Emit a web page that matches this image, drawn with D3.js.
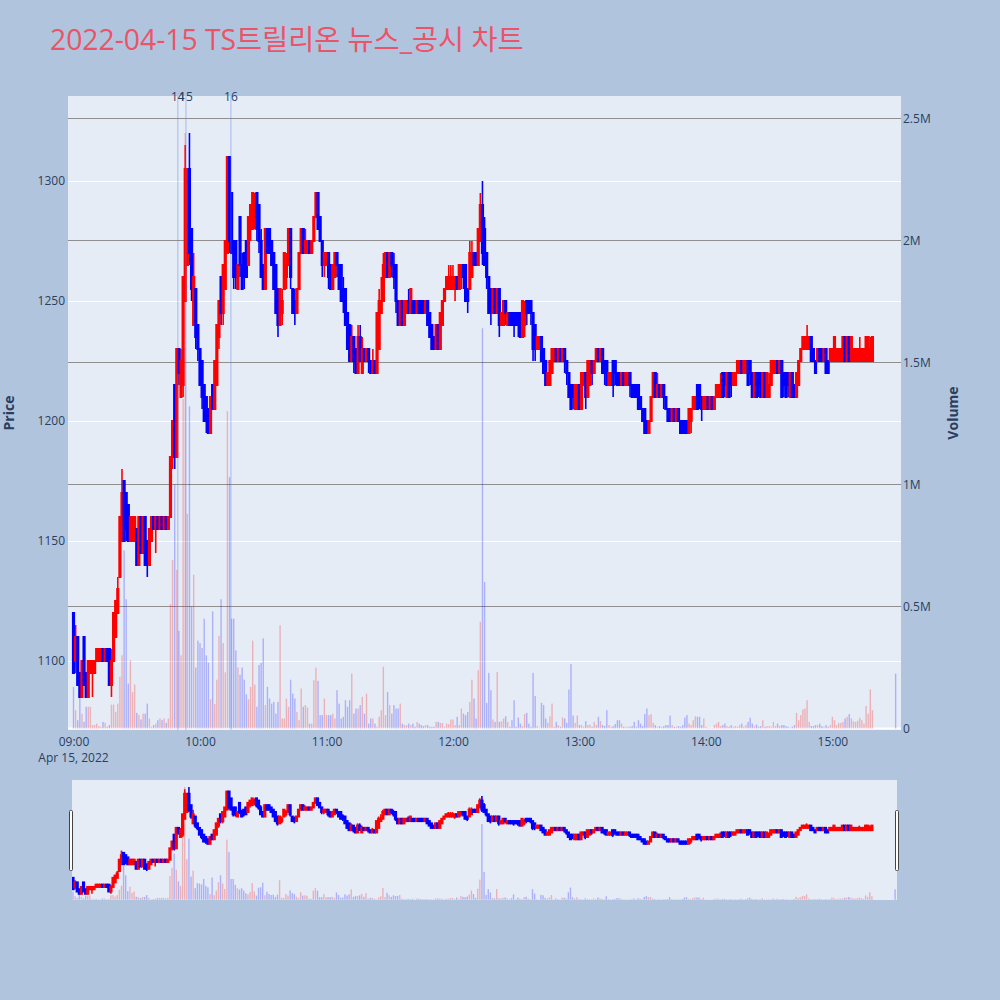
<!DOCTYPE html>
<html><head><meta charset="utf-8">
<script src="https://cdn.jsdelivr.net/npm/d3@7"></script>
<style>body{margin:0;background:#B0C4DE;}svg{display:block}</style>
</head><body>
<svg id="chart" width="1000" height="1000"></svg>
<script>
// ---------------- data ----------------
const titleText = "2022-04-15 TS트릴리온 뉴스_공시 차트";
const tradeDate = "2022-04-15";
const sessionStart = "09:00";
// one candle per minute from 09:00: [open, high, low, close]
const candles = [
[1120,1120,1095,1095],[1100,1115,1095,1110],[1110,1110,1090,1090],[1095,1095,1085,1085],[1085,1100,1085,1100],
[1110,1110,1090,1090],[1095,1095,1085,1085],[1085,1100,1085,1100],[1095,1100,1095,1100],[1095,1100,1085,1100],
[1095,1100,1095,1100],[1100,1105,1100,1105],[1100,1105,1100,1105],[1100,1105,1100,1105],[1105,1105,1100,1100],
[1100,1105,1100,1105],[1105,1105,1100,1100],[1105,1105,1090,1090],[1090,1105,1085,1100],[1100,1120,1100,1120],
[1110,1125,1110,1125],[1120,1135,1120,1130],[1135,1160,1135,1160],[1150,1180,1150,1170],[1175,1175,1150,1150],
[1170,1170,1150,1155],[1165,1165,1150,1150],[1150,1160,1150,1160],[1150,1160,1150,1160],[1150,1160,1150,1160],
[1155,1155,1140,1140],[1140,1160,1140,1160],[1160,1160,1145,1145],[1145,1160,1145,1160],[1160,1160,1140,1140],
[1150,1150,1135,1140],[1140,1155,1140,1155],[1150,1160,1150,1160],[1160,1160,1155,1155],[1155,1160,1145,1160],
[1160,1160,1155,1155],[1155,1160,1155,1160],[1160,1160,1155,1155],[1155,1160,1155,1160],[1160,1160,1155,1155],
[1155,1160,1155,1160],[1160,1185,1160,1185],[1185,1200,1180,1200],[1215,1215,1180,1185],[1185,1230,1185,1230],
[1230,1230,1215,1220],[1210,1230,1210,1225],[1215,1260,1210,1260],[1250,1315,1250,1305],[1265,1305,1265,1305],
[1305,1320,1265,1270],[1280,1280,1250,1255],[1240,1270,1240,1260],[1255,1255,1230,1235],[1240,1240,1225,1230],
[1230,1230,1215,1215],[1225,1225,1205,1210],[1215,1215,1200,1200],[1210,1210,1195,1200],[1205,1205,1195,1195],
[1195,1210,1195,1210],[1215,1215,1205,1205],[1205,1225,1205,1225],[1215,1240,1215,1240],[1235,1250,1230,1250],
[1260,1260,1240,1245],[1245,1265,1240,1265],[1255,1275,1255,1275],[1270,1310,1270,1310],[1310,1310,1270,1275],
[1295,1295,1270,1270],[1275,1275,1255,1260],[1275,1275,1255,1260],[1255,1265,1255,1265],[1285,1285,1260,1265],
[1265,1270,1255,1255],[1270,1270,1255,1260],[1275,1275,1260,1260],[1265,1285,1265,1285],[1280,1290,1275,1290],
[1280,1295,1280,1295],[1285,1295,1280,1290],[1295,1295,1275,1280],[1290,1290,1270,1275],[1275,1280,1260,1260],
[1265,1265,1255,1255],[1255,1280,1255,1280],[1280,1280,1270,1270],[1280,1280,1270,1270],[1275,1275,1265,1265],
[1270,1270,1255,1255],[1265,1265,1245,1245],[1255,1255,1235,1240],[1240,1255,1240,1255],[1245,1255,1240,1250],
[1255,1270,1255,1270],[1260,1270,1255,1265],[1265,1280,1265,1280],[1280,1280,1255,1260],[1255,1255,1245,1245],
[1250,1255,1240,1245],[1245,1255,1245,1255],[1255,1270,1255,1270],[1270,1280,1270,1280],[1280,1280,1270,1270],
[1270,1280,1270,1275],[1270,1275,1270,1275],[1275,1275,1270,1270],[1270,1275,1270,1275],[1275,1285,1275,1285],
[1285,1295,1285,1295],[1295,1295,1280,1280],[1285,1285,1275,1275],[1275,1275,1260,1265],[1265,1270,1260,1270],
[1265,1270,1265,1270],[1270,1270,1255,1260],[1265,1265,1255,1255],[1255,1265,1255,1265],[1260,1270,1260,1270],
[1270,1270,1260,1265],[1265,1265,1255,1255],[1265,1265,1250,1250],[1255,1260,1245,1250],[1255,1255,1240,1240],
[1245,1245,1230,1230],[1240,1240,1225,1225],[1225,1240,1225,1235],[1235,1235,1220,1225],[1230,1230,1220,1220],
[1220,1240,1220,1235],[1235,1240,1225,1225],[1220,1235,1220,1230],[1230,1230,1225,1225],[1225,1230,1225,1230],
[1230,1230,1220,1225],[1225,1225,1220,1220],[1220,1230,1220,1225],[1225,1225,1220,1220],[1220,1245,1220,1245],
[1230,1255,1230,1250],[1245,1260,1245,1250],[1250,1270,1250,1265],[1260,1270,1260,1270],[1270,1270,1260,1260],
[1260,1270,1260,1270],[1270,1270,1260,1265],[1265,1270,1255,1260],[1265,1265,1245,1250],[1250,1250,1240,1240],
[1240,1250,1240,1250],[1250,1250,1240,1240],[1240,1250,1240,1250],[1245,1250,1245,1250],[1250,1255,1245,1245],
[1245,1255,1245,1255],[1250,1250,1245,1245],[1250,1250,1245,1245],[1245,1250,1245,1250],[1250,1250,1245,1245],
[1250,1250,1245,1245],[1250,1250,1245,1245],[1245,1250,1245,1250],[1250,1250,1240,1240],[1245,1245,1235,1235],
[1240,1240,1230,1230],[1235,1235,1230,1230],[1230,1240,1230,1240],[1240,1240,1230,1230],[1230,1245,1230,1245],
[1240,1250,1240,1250],[1250,1255,1250,1255],[1255,1260,1255,1260],[1255,1265,1255,1260],[1255,1265,1255,1260],
[1255,1265,1255,1260],[1255,1260,1250,1260],[1260,1260,1255,1255],[1255,1265,1255,1265],[1260,1265,1255,1265],
[1265,1265,1255,1260],[1265,1265,1250,1250],[1255,1255,1245,1250],[1255,1275,1255,1270],[1260,1275,1260,1270],
[1270,1270,1265,1265],[1270,1270,1265,1265],[1265,1280,1265,1280],[1275,1295,1275,1290],[1290,1300,1265,1270],
[1280,1285,1265,1265],[1270,1270,1255,1260],[1260,1260,1245,1245],[1255,1255,1240,1245],[1245,1255,1245,1255],
[1255,1255,1245,1245],[1245,1255,1245,1255],[1255,1255,1235,1240],[1240,1245,1240,1245],[1240,1250,1240,1250],
[1250,1250,1240,1245],[1240,1245,1240,1245],[1245,1245,1240,1240],[1245,1245,1240,1240],[1245,1245,1235,1240],
[1245,1245,1240,1240],[1245,1245,1235,1240],[1245,1245,1235,1235],[1235,1250,1235,1250],[1240,1250,1235,1245],
[1250,1250,1240,1245],[1250,1250,1245,1245],[1250,1250,1240,1245],[1245,1245,1225,1230],[1240,1240,1225,1230],
[1230,1235,1230,1235],[1230,1235,1230,1235],[1235,1235,1225,1225],[1230,1230,1220,1220],[1225,1225,1215,1215],
[1215,1220,1215,1220],[1215,1225,1215,1225],[1220,1230,1220,1230],[1225,1230,1225,1230],[1230,1230,1225,1225],
[1225,1230,1225,1230],[1230,1230,1225,1225],[1225,1230,1225,1230],[1230,1230,1220,1225],[1225,1225,1215,1220],
[1220,1220,1210,1210],[1215,1215,1205,1205],[1215,1215,1205,1210],[1205,1215,1205,1215],[1205,1215,1205,1215],
[1215,1215,1205,1205],[1205,1220,1205,1220],[1215,1220,1215,1220],[1220,1220,1205,1210],[1210,1225,1210,1225],
[1215,1225,1215,1225],[1225,1225,1215,1220],[1220,1225,1220,1225],[1225,1230,1225,1230],[1230,1230,1225,1225],
[1225,1230,1225,1230],[1230,1230,1220,1220],[1225,1225,1215,1220],[1225,1225,1215,1215],[1215,1220,1215,1220],
[1215,1220,1215,1220],[1225,1225,1210,1215],[1225,1225,1215,1220],[1220,1220,1215,1215],[1220,1220,1215,1215],
[1215,1220,1215,1220],[1220,1220,1215,1215],[1215,1220,1215,1220],[1215,1220,1215,1220],[1220,1220,1210,1215],
[1215,1215,1210,1210],[1215,1215,1210,1210],[1215,1215,1210,1210],[1215,1215,1205,1205],[1210,1210,1205,1205],
[1205,1205,1200,1200],[1205,1205,1195,1195],[1200,1200,1195,1195],[1195,1200,1195,1200],[1200,1210,1200,1210],
[1210,1220,1210,1220],[1220,1220,1210,1210],[1210,1220,1210,1215],[1215,1215,1210,1210],[1210,1215,1210,1215],
[1215,1215,1205,1210],[1210,1210,1205,1205],[1205,1205,1200,1200],[1205,1205,1200,1200],[1200,1205,1200,1205],
[1205,1205,1200,1200],[1200,1205,1200,1205],[1205,1205,1200,1200],[1200,1200,1195,1195],[1200,1200,1195,1195],
[1200,1200,1195,1195],[1200,1200,1195,1195],[1195,1205,1195,1205],[1200,1205,1195,1205],[1205,1210,1205,1210],
[1205,1210,1205,1210],[1215,1215,1205,1205],[1215,1215,1205,1210],[1210,1210,1200,1205],[1205,1210,1205,1210],
[1205,1210,1205,1210],[1210,1210,1205,1205],[1205,1210,1205,1210],[1210,1210,1205,1205],[1205,1210,1205,1210],
[1210,1215,1210,1215],[1210,1215,1210,1215],[1210,1220,1210,1215],[1220,1220,1210,1210],[1220,1220,1210,1215],
[1210,1220,1210,1220],[1220,1220,1210,1210],[1220,1220,1210,1215],[1215,1220,1215,1220],[1215,1220,1215,1220],
[1220,1225,1220,1225],[1220,1225,1220,1225],[1225,1225,1220,1220],[1220,1225,1220,1225],[1220,1225,1220,1225],
[1225,1225,1215,1215],[1225,1225,1215,1220],[1220,1220,1210,1210],[1210,1220,1210,1220],[1220,1220,1210,1210],
[1220,1220,1210,1215],[1220,1220,1210,1210],[1210,1220,1210,1220],[1220,1220,1210,1210],[1210,1220,1210,1220],
[1210,1220,1210,1215],[1215,1225,1215,1225],[1220,1225,1220,1225],[1220,1225,1220,1225],[1225,1225,1220,1220],
[1220,1225,1220,1225],[1225,1225,1210,1210],[1220,1220,1210,1215],[1220,1220,1210,1210],[1220,1220,1210,1215],
[1210,1220,1210,1220],[1220,1220,1210,1210],[1215,1215,1210,1210],[1210,1220,1210,1220],[1215,1225,1215,1225],
[1225,1230,1225,1230],[1230,1235,1230,1235],[1230,1235,1230,1235],[1230,1240,1230,1235],[1230,1235,1230,1235],
[1235,1235,1225,1225],[1230,1230,1225,1225],[1225,1225,1220,1220],[1225,1230,1225,1230],[1230,1230,1225,1225],
[1230,1230,1225,1225],[1225,1230,1225,1230],[1230,1230,1220,1220],[1225,1225,1220,1220],[1225,1230,1225,1230],
[1225,1230,1225,1230],[1225,1235,1225,1235],[1225,1230,1225,1230],[1225,1230,1225,1230],[1225,1230,1225,1230],
[1225,1235,1225,1235],[1235,1235,1225,1225],[1225,1235,1225,1235],[1235,1235,1225,1225],[1225,1235,1225,1235],
[1225,1230,1225,1230],[1225,1230,1225,1230],[1225,1230,1225,1230],[1225,1235,1225,1230],[1225,1230,1225,1230],
[1225,1230,1225,1230],[1225,1235,1225,1235],[1225,1235,1225,1235],[1225,1235,1225,1230],[1225,1235,1225,1235]
];
// volume per minute, thousands of shares
const volumesK = [
171,75,34,130,61,27,89,89,89,14, 14,20,10,7,27,23,7,14,98,98, 68,102,212,300,730,530,184,280,150,180,
64,55,37,61,61,102,41,7,14,20, 34,41,34,41,23,41,
510,690,1000,650,400,300,1350,2440,880,1320, 500,630,250,360,350,330,450,300,270,120,
480,100,200,380,530,350,230,1300,1030,450, 450,320,250,220,250,200,140,120,170,360, 180,
89,260,269,369,96,171,123,102,109,61, 109,423,41,41,123,89,200,143,123,68,
34,164,89,96,86,20,20,198,249,195, 55,55,123,55,55,55,61,41,157,102,
41,48,116,89,116,225,61,82,82,96, 130,61,143,20,41,41,20,7,48,75,
253,55,150,96,61,96,82,82,102,20, 14,14,20,14,20,7,27,20,14,10,
14,14,7,7,7,27,27,23,23,7, 20,18,37,37,14,48,14,82,61,55,
68,109,200,123,41,239,437,1640,600,
105,228,157,37,27,231,27,30,41,50, 27,7,34,116,7,45,20,10,59,64,
20,7,228,133,10,4,105,96,41,23, 50,102,7,27,14,7,45,41,23,160,
264,53,23,53,14,14,7,30,14,16, 7,27,14,48,30,14,10,75,14,7,
10,18,34,34,20,7,7,7,7,10, 27,7,34,20,10,59,82,55,59,23,
14,7,10,7,10,14,14,53,14,7, 7,10,7,14,45,55,20,14,34,50,
48,48,14,41,7,
3,3,2,14,20,27,10,14,20,10, 7,14,7,10,7,14,20,7,14,27,
44,20,10,16,7,10,34,7,10,10, 7,27,10,20,10,14,14,10,7,4,
7,14,64,34,55,78,82,116,27,10, 10,14,14,20,10,7,14,7,14,48,
34,14,23,23,27,41,48,59,41,30, 27,32,44,34,20,92,61,160,75
];
const auctionTime = "15:30";
const auctionCandle = [1230,1230,1230,1230];
const auctionVolumeK = 225;

const eventLabels = ["14","15","16"];
const eventTimes = ["09:49:30","09:53:20","10:14:40"];

const priceTicks = [1100,1150,1200,1250,1300];
const volumeTicks = [0,500000,1000000,1500000,2000000,2500000];
const volumeTickLabels = ["0","0.5M","1M","1.5M","2M","2.5M"];
const dateLabel = "Apr 15, 2022";

// ---------------- build ----------------
const parseT = d3.timeParse("%Y-%m-%d %H:%M:%S");
const t0 = parseT(tradeDate+" "+sessionStart+":00");
const rows = candles.map((c,i)=>({t:d3.timeMinute.offset(t0,i),o:c[0],h:c[1],l:c[2],c:c[3],v:volumesK[i]*1000}));
rows.push({t:parseT(tradeDate+" "+auctionTime+":00"),o:auctionCandle[0],h:auctionCandle[1],l:auctionCandle[2],c:auctionCandle[3],v:auctionVolumeK*1000});

const UP="#FF0000", DOWN="#0000FF";
const col = d=> d.c>d.o ? UP : DOWN;
const volCol = d=> d.c>d.o ? "rgba(255,0,0,0.25)" : "rgba(0,0,255,0.25)";

const svg = d3.select("#chart");
svg.append("rect").attr("width",1000).attr("height",1000).attr("fill","#B0C4DE");

const P = {l:68,r:901,t:96,b:730};
const x = d3.scaleTime().domain([d3.timeSecond.offset(t0,-157), d3.timeSecond.offset(t0,23553)]).range([P.l,P.r]);
const yP = d3.scaleLinear().domain([1071.25,1335.42]).range([P.b,P.t]);
const yV = d3.scaleLinear().domain([-6148,2592000]).range([P.b,P.t]);

const font = "'Open Sans','Noto Sans CJK KR',sans-serif";
const txtCol = "#2a3f5f";

svg.append("defs").append("clipPath").attr("id","clipMain").append("rect")
  .attr("x",P.l).attr("y",P.t).attr("width",P.r-P.l).attr("height",P.b-P.t);

svg.append("rect").attr("x",P.l).attr("y",P.t).attr("width",P.r-P.l).attr("height",P.b-P.t).attr("fill","#E5ECF6");

// grids
svg.append("g").selectAll("line").data(priceTicks).join("line")
  .attr("x1",P.l).attr("x2",P.r).attr("y1",d=>Math.round(yP(d))+0.5).attr("y2",d=>Math.round(yP(d))+0.5)
  .attr("stroke","#fff").attr("stroke-width",1);
svg.append("g").selectAll("line").data(volumeTicks.slice(1)).join("line")
  .attr("x1",P.l).attr("x2",P.r).attr("y1",d=>Math.round(yV(d))+0.5).attr("y2",d=>Math.round(yV(d))+0.5)
  .attr("stroke","#8f8f8f").attr("stroke-width",1.2);
svg.append("line").attr("x1",P.l).attr("x2",P.r).attr("y1",yV(0)).attr("y2",yV(0)).attr("stroke","#fff").attr("stroke-width",2);

function drawSeries(g, xs, yp, yv, barW){
  g.append("g").selectAll("rect").data(rows).join("rect")
    .attr("x",d=>xs(d.t)-barW/2).attr("width",barW)
    .attr("y",d=>yv(d.v)).attr("height",d=>Math.max(0,yv(0)-yv(d.v)))
    .attr("fill",volCol);
  const cg = g.append("g");
  cg.selectAll("line").data(rows).join("line")
    .attr("x1",d=>xs(d.t)).attr("x2",d=>xs(d.t))
    .attr("y1",d=>yp(d.h)).attr("y2",d=>yp(d.l))
    .attr("stroke",col).attr("stroke-width",1.6);
  cg.selectAll("rect").data(rows).join("rect")
    .attr("x",d=>xs(d.t)-0.6).attr("width",1.2)
    .attr("y",d=>yp(Math.max(d.o,d.c))).attr("height",d=>Math.abs(yp(d.o)-yp(d.c)))
    .attr("fill",col).attr("stroke",col).attr("stroke-width",2);
}
const gm = svg.append("g").attr("clip-path","url(#clipMain)");
drawSeries(gm, x, yP, yV, 1.4);

// event lines
const evT = eventTimes.map(s=>parseT(tradeDate+" "+s));
svg.append("g").selectAll("line").data(evT).join("line")
  .attr("x1",d=>x(d)).attr("x2",d=>x(d)).attr("y1",P.t).attr("y2",P.b)
  .attr("stroke","rgba(90,120,235,0.45)").attr("stroke-width",1);
svg.append("g").selectAll("text").data(eventLabels).join("text")
  .attr("x",(d,i)=>x(evT[i])).attr("y",101).attr("text-anchor","middle")
  .attr("font-family",font).attr("font-size",12).attr("fill",txtCol).text(d=>d);

// axes
const axL = svg.append("g").attr("transform",`translate(${P.l},0)`)
  .call(d3.axisLeft(yP).tickValues(priceTicks).tickSize(0).tickPadding(3).tickFormat(d3.format("d")));
const axR = svg.append("g").attr("transform",`translate(${P.r},0)`)
  .call(d3.axisRight(yV).tickValues(volumeTicks).tickSize(0).tickPadding(2).tickFormat((d,i)=>volumeTickLabels[i]));
const axB = svg.append("g").attr("transform",`translate(0,${P.b})`)
  .call(d3.axisBottom(x).ticks(d3.timeHour.every(1)).tickSize(0).tickPadding(7).tickFormat(d3.timeFormat("%H:%M")));
[axL,axR,axB].forEach(a=>{a.select(".domain").remove();
  a.selectAll("text").attr("font-family",font).attr("font-size",12).attr("fill",txtCol);});
svg.append("text").attr("x",x(t0)).attr("y",762).attr("text-anchor","middle")
  .attr("font-family",font).attr("font-size",12).attr("fill",txtCol).text(dateLabel);

svg.append("text").attr("transform","translate(14,413) rotate(-90)").attr("text-anchor","middle")
  .attr("font-family",font).attr("font-size",14).attr("font-weight","bold").attr("fill",txtCol).text("Price");
svg.append("text").attr("transform","translate(958,413) rotate(-90)").attr("text-anchor","middle")
  .attr("font-family",font).attr("font-size",14).attr("font-weight","bold").attr("fill",txtCol).text("Volume");

// title
svg.append("text").attr("x",50).attr("y",50).attr("font-family",font).attr("font-size",28.3)
  .attr("fill","#EB5368").text(titleText);

// range slider
const S = {l:72,r:897,t:780,b:900};
svg.append("defs").append("clipPath").attr("id","clipS").append("rect")
  .attr("x",S.l).attr("y",S.t).attr("width",S.r-S.l).attr("height",S.b-S.t);
svg.append("rect").attr("x",S.l).attr("y",S.t).attr("width",S.r-S.l).attr("height",S.b-S.t).attr("fill","#E5ECF6");
const xs = d3.scaleTime().domain([d3.timeSecond.offset(t0,-28), d3.timeSecond.offset(t0,23454)]).range([S.l,S.r]);
const yPs = d3.scaleLinear().domain(yP.domain()).range([S.b,S.t]);
const yVs = d3.scaleLinear().domain(yV.domain()).range([S.b,S.t]);
const gs = svg.append("g").attr("clip-path","url(#clipS)");
drawSeries(gs, xs, yPs, yVs, 1.4);
[S.l-2.5, S.r-1.5].forEach(gx=>{
  svg.append("rect").attr("x",gx).attr("y",810.5).attr("width",3).attr("height",60)
    .attr("rx",1).attr("fill","#fff").attr("stroke","#444").attr("stroke-width",1);
});
</script>
</body></html>
